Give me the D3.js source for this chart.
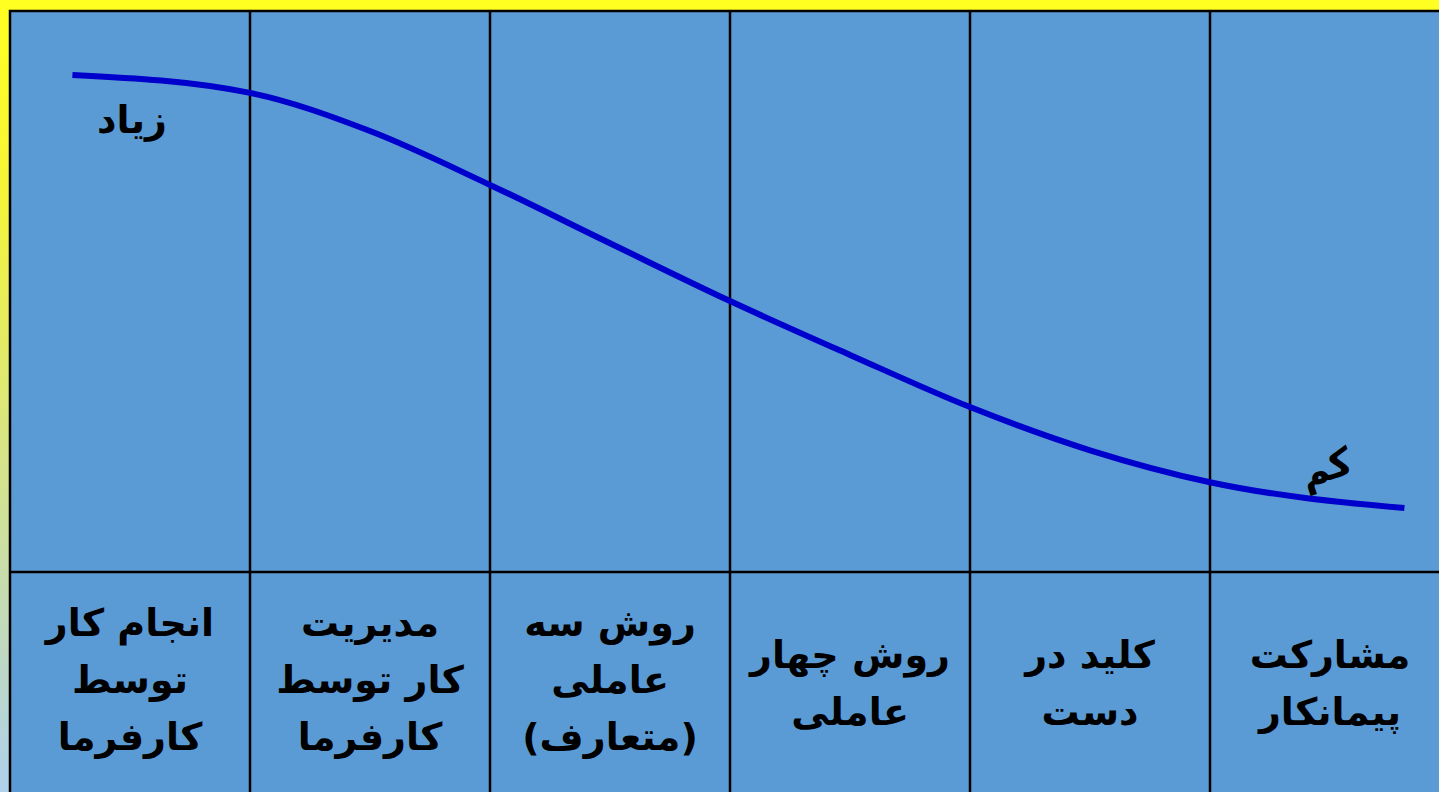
<!DOCTYPE html>
<html>
<head>
<meta charset="utf-8">
<script src="https://cdn.jsdelivr.net/npm/d3@7"></script>
<style>
  html, body { margin: 0; padding: 0; background: #fff; overflow: hidden; }
  text { font-family: "DejaVu Sans", sans-serif; font-weight: bold; }
</style>
</head>
<body>
<div class="chart"></div>
<script>
// column labels, left to right as shown
var columns = [
  ["انجام کار", "توسط", "کارفرما"],
  ["مدیریت", "کار توسط", "کارفرما"],
  ["روش سه", "عاملی", "(متعارف)"],
  ["روش چهار", "عاملی"],
  ["کلید در", "دست"],
  ["مشارکت", "پیمانکار"]
];
// curve: position in column units, level (0-100)
var curveX = [0.26, 1, 1.5, 2, 2.5, 3, 3.5, 4, 4.5, 5, 5.81];
var curveY = [88.6, 85.4, 78.6, 69.0, 58.6, 48.3, 38.7, 29.4, 21.7, 16.0, 11.4];
var highLabel = "زیاد";
var lowLabel = "کم";

var width = 1439, height = 792;
var svg = d3.select(".chart").append("svg")
    .attr("width", width)
    .attr("height", height);

var defs = svg.append("defs");
var grad = defs.append("linearGradient")
    .attr("id", "edge")
    .attr("x1", 0).attr("y1", 0).attr("x2", 0).attr("y2", 1);
grad.append("stop").attr("offset", "0").attr("stop-color", "#ffff22");
grad.append("stop").attr("offset", "0.25").attr("stop-color", "#f4f43a");
grad.append("stop").attr("offset", "1").attr("stop-color", "#aed0ec");

// frame
svg.append("rect").attr("x", 0).attr("y", 0).attr("width", width).attr("height", height).attr("fill", "url(#edge)");
svg.append("rect").attr("x", 0).attr("y", 0).attr("width", width).attr("height", 11).attr("fill", "#ffff22");

var x = d3.scaleLinear().domain([0, 6]).range([10, 1450]);
var y = d3.scaleLinear().domain([0, 100]).range([572, 11]);

svg.append("rect")
    .attr("x", x(0)).attr("y", y(100))
    .attr("width", width - x(0) + 5).attr("height", height)
    .attr("fill", "#5b9bd5")
    .attr("stroke", "#000").attr("stroke-width", 2.5);

// vertical grid
svg.selectAll(".vline")
    .data(d3.range(1, 6))
    .enter().append("line")
    .attr("x1", function(d) { return x(d); })
    .attr("x2", function(d) { return x(d); })
    .attr("y1", y(100)).attr("y2", height)
    .attr("stroke", "#000").attr("stroke-width", 2.5);

// divider
svg.append("line")
    .attr("x1", x(0)).attr("x2", width)
    .attr("y1", y(0)).attr("y2", y(0))
    .attr("stroke", "#000").attr("stroke-width", 2.5);

// curve
var pts = curveX.map(function(d, i) { return [d, curveY[i]]; });
var line = d3.line()
    .x(function(d) { return x(d[0]); })
    .y(function(d) { return y(d[1]); })
    .curve(d3.curveMonotoneX);
svg.append("path")
    .datum(pts)
    .attr("d", line)
    .attr("fill", "none")
    .attr("stroke", "#0000cc")
    .attr("stroke-width", 6);

svg.append("text")
    .attr("x", 132).attr("y", 133)
    .attr("text-anchor", "middle")
    .attr("direction", "rtl")
    .style("font-size", "38px")
    .text(highLabel);

svg.append("text")
    .attr("transform", "translate(1330,480) rotate(-18)")
    .attr("text-anchor", "middle")
    .attr("direction", "rtl")
    .style("font-size", "38px")
    .text(lowLabel);

// column labels
var g = svg.selectAll(".col")
    .data(columns)
    .enter().append("g")
    .attr("transform", function(d, i) { return "translate(" + x(i + 0.5) + ",0)"; });

g.each(function(lines) {
  var top = lines.length === 3 ? 636 : 668;
  d3.select(this).selectAll("text")
    .data(lines)
    .enter().append("text")
    .attr("x", 0)
    .attr("y", function(d, j) { return top + j * 57; })
    .attr("text-anchor", "middle")
    .attr("direction", "rtl")
    .style("font-size", "38px")
    .text(function(d) { return d; });
});
</script>
</body>
</html>
